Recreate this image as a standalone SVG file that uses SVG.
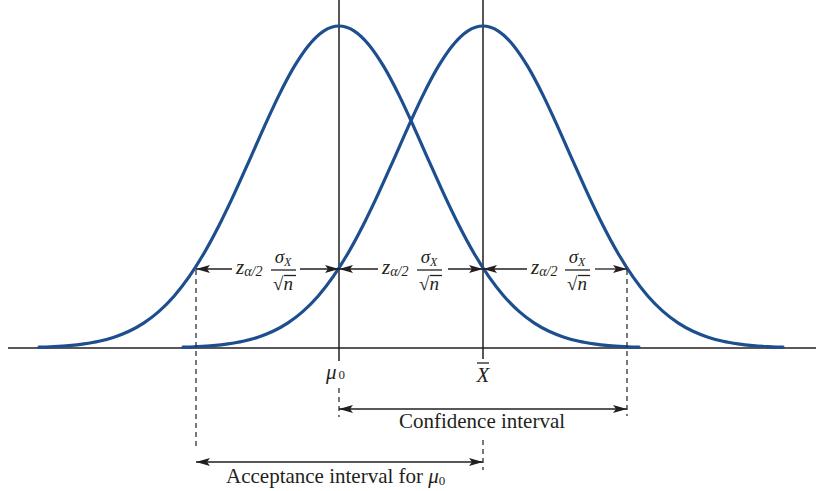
<svg xmlns="http://www.w3.org/2000/svg" xmlns:xlink="http://www.w3.org/1999/xlink" width="816" height="491" viewBox="0 0 816 491">
<style>
.curve{fill:none;stroke:#1d4f8e;stroke-width:3.2;stroke-linejoin:round;stroke-linecap:round}
.ax{stroke:#231f20;stroke-width:1.5;fill:none}
.dash{stroke:#231f20;stroke-width:1.2;stroke-dasharray:5,4;fill:none}
.arr{stroke:#231f20;stroke-width:1.3;fill:none}
.t{font-family:"Liberation Serif",serif;fill:#231f20}
.it{font-style:italic}
</style>
<defs>
<marker id="ah" viewBox="0 0 14 8" refX="14" refY="4" markerWidth="14" markerHeight="8" markerUnits="userSpaceOnUse" orient="auto">
<path d="M0,0 L14,4 L0,8 L3,4 Z" fill="#231f20"/>
</marker>
<path id="bell" d="M-300,347.2 C-295,347.1 -290,346.87 -285,346.6 C-280,346.33 -275,346.05 -270,345.6 C-265,345.15 -260,344.62 -255,343.9 C-250,343.18 -245,342.42 -240,341.3 C-235,340.18 -230,338.87 -225,337.2 C-220,335.53 -215,333.68 -210,331.3 C-205,328.92 -200,326.22 -195,322.9 C-190,319.58 -185,315.85 -180,311.4 C-175,306.95 -170,301.95 -165,296.2 C-160,290.45 -155,284.05 -150,276.9 C-145,269.75 -140,261.87 -135,253.3 C-130,244.73 -125,235.32 -120,225.5 C-115,215.68 -110,205.13 -105,194.4 C-100,183.67 -95,172.28 -90,161.1 C-85,149.92 -80,138.3 -75,127.3 C-70,116.3 -65,105.17 -60,95.1 C-55,85.03 -50,75.27 -45,66.9 C-40,58.53 -35,50.92 -30,44.9 C-25,38.88 -20,33.95 -15,30.8 C-10,27.65 -5,26 0,26 C5,26 10,27.65 15,30.8 C20,33.95 25,38.88 30,44.9 C35,50.92 40,58.53 45,66.9 C50,75.27 55,85.03 60,95.1 C65,105.17 70,116.3 75,127.3 C80,138.3 85,149.92 90,161.1 C95,172.28 100,183.67 105,194.4 C110,205.13 115,215.68 120,225.5 C125,235.32 130,244.73 135,253.3 C140,261.87 145,269.75 150,276.9 C155,284.05 160,290.45 165,296.2 C170,301.95 175,306.95 180,311.4 C185,315.85 190,319.58 195,322.9 C200,326.22 205,328.92 210,331.3 C215,333.68 220,335.53 225,337.2 C230,338.87 235,340.18 240,341.3 C245,342.42 250,343.18 255,343.9 C260,344.62 265,345.15 270,345.6 C275,346.05 280,346.33 285,346.6 C290,346.87 295,347.1 300,347.2"/>
</defs>

<g id="axis">
<line class="ax" x1="8" y1="348" x2="816" y2="348"/>
<line class="ax" x1="339" y1="0" x2="339" y2="361"/>
<line class="ax" x1="483" y1="0" x2="483" y2="359"/>
</g>

<g id="curve-mu0"><use xlink:href="#bell" class="curve" transform="translate(339,0)"/></g>
<g id="curve-xbar"><use xlink:href="#bell" class="curve" transform="translate(483,0)"/></g>

<g id="connectors">
<line class="dash" x1="196" y1="270" x2="196" y2="446"/>
<line class="dash" x1="627" y1="270" x2="627" y2="416"/>
<line class="dash" x1="339" y1="388" x2="339" y2="417"/>
<line class="dash" x1="483" y1="440" x2="483" y2="470"/>
<line class="arr" x1="232" y1="269" x2="196" y2="269" marker-end="url(#ah)"/>
<line class="arr" x1="300" y1="269" x2="339" y2="269" marker-end="url(#ah)"/>
<line class="arr" x1="378" y1="269" x2="339" y2="269" marker-end="url(#ah)"/>
<line class="arr" x1="448" y1="269" x2="483" y2="269" marker-end="url(#ah)"/>
<line class="arr" x1="527" y1="269" x2="483" y2="269" marker-end="url(#ah)"/>
<line class="arr" x1="595" y1="269" x2="627" y2="269" marker-end="url(#ah)"/>
<line class="arr" x1="483" y1="409" x2="339" y2="409" marker-end="url(#ah)"/>
<line class="arr" x1="483" y1="409" x2="627" y2="409" marker-end="url(#ah)"/>
<line class="arr" x1="340" y1="462" x2="196" y2="462" marker-end="url(#ah)"/>
<line class="arr" x1="340" y1="462" x2="483" y2="462" marker-end="url(#ah)"/>
</g>

<g id="label-seg1">
<text class="t it" x="236" y="274" font-size="21">z<tspan font-size="14" dy="2">α/2</tspan></text>
<text class="t it" x="283" y="263" font-size="19" text-anchor="middle">σ<tspan font-size="12" dy="3">X</tspan></text>
<line class="arr" x1="271" y1="270" x2="296" y2="270"/>
<text class="t" x="273" y="290" font-size="19">√<tspan class="it">n</tspan></text>
<line class="arr" x1="284" y1="275.5" x2="296" y2="275.5" stroke-width="1"/>
</g>

<g id="label-seg2">
<text class="t it" x="382" y="274" font-size="21">z<tspan font-size="14" dy="2">α/2</tspan></text>
<text class="t it" x="429" y="263" font-size="19" text-anchor="middle">σ<tspan font-size="12" dy="3">X</tspan></text>
<line class="arr" x1="417" y1="270" x2="442" y2="270"/>
<text class="t" x="419" y="290" font-size="19">√<tspan class="it">n</tspan></text>
<line class="arr" x1="430" y1="275.5" x2="442" y2="275.5" stroke-width="1"/>
</g>

<g id="label-seg3">
<text class="t it" x="531" y="274" font-size="21">z<tspan font-size="14" dy="2">α/2</tspan></text>
<text class="t it" x="577" y="263" font-size="19" text-anchor="middle">σ<tspan font-size="12" dy="3">X</tspan></text>
<line class="arr" x1="565" y1="270" x2="590" y2="270"/>
<text class="t" x="567" y="290" font-size="19">√<tspan class="it">n</tspan></text>
<line class="arr" x1="578" y1="275.5" x2="590" y2="275.5" stroke-width="1"/>
</g>

<g id="label-mu0">
<text class="t it" x="326" y="379" font-size="21">μ<tspan font-style="normal" font-size="13" dx="2">0</tspan></text>
</g>
<g id="label-xbar">
<text class="t it" x="483" y="382" font-size="21" text-anchor="middle">X</text>
<line class="arr" x1="477" y1="363" x2="489" y2="363" stroke-width="1.2"/>
</g>

<g id="label-confidence">
<text class="t" x="482" y="428" font-size="21" text-anchor="middle">Confidence interval</text>
</g>
<g id="label-acceptance">
<text class="t" x="226" y="483" font-size="21">Acceptance interval for <tspan class="it">μ</tspan><tspan font-size="13" dy="2">0</tspan></text>
</g>
</svg>
